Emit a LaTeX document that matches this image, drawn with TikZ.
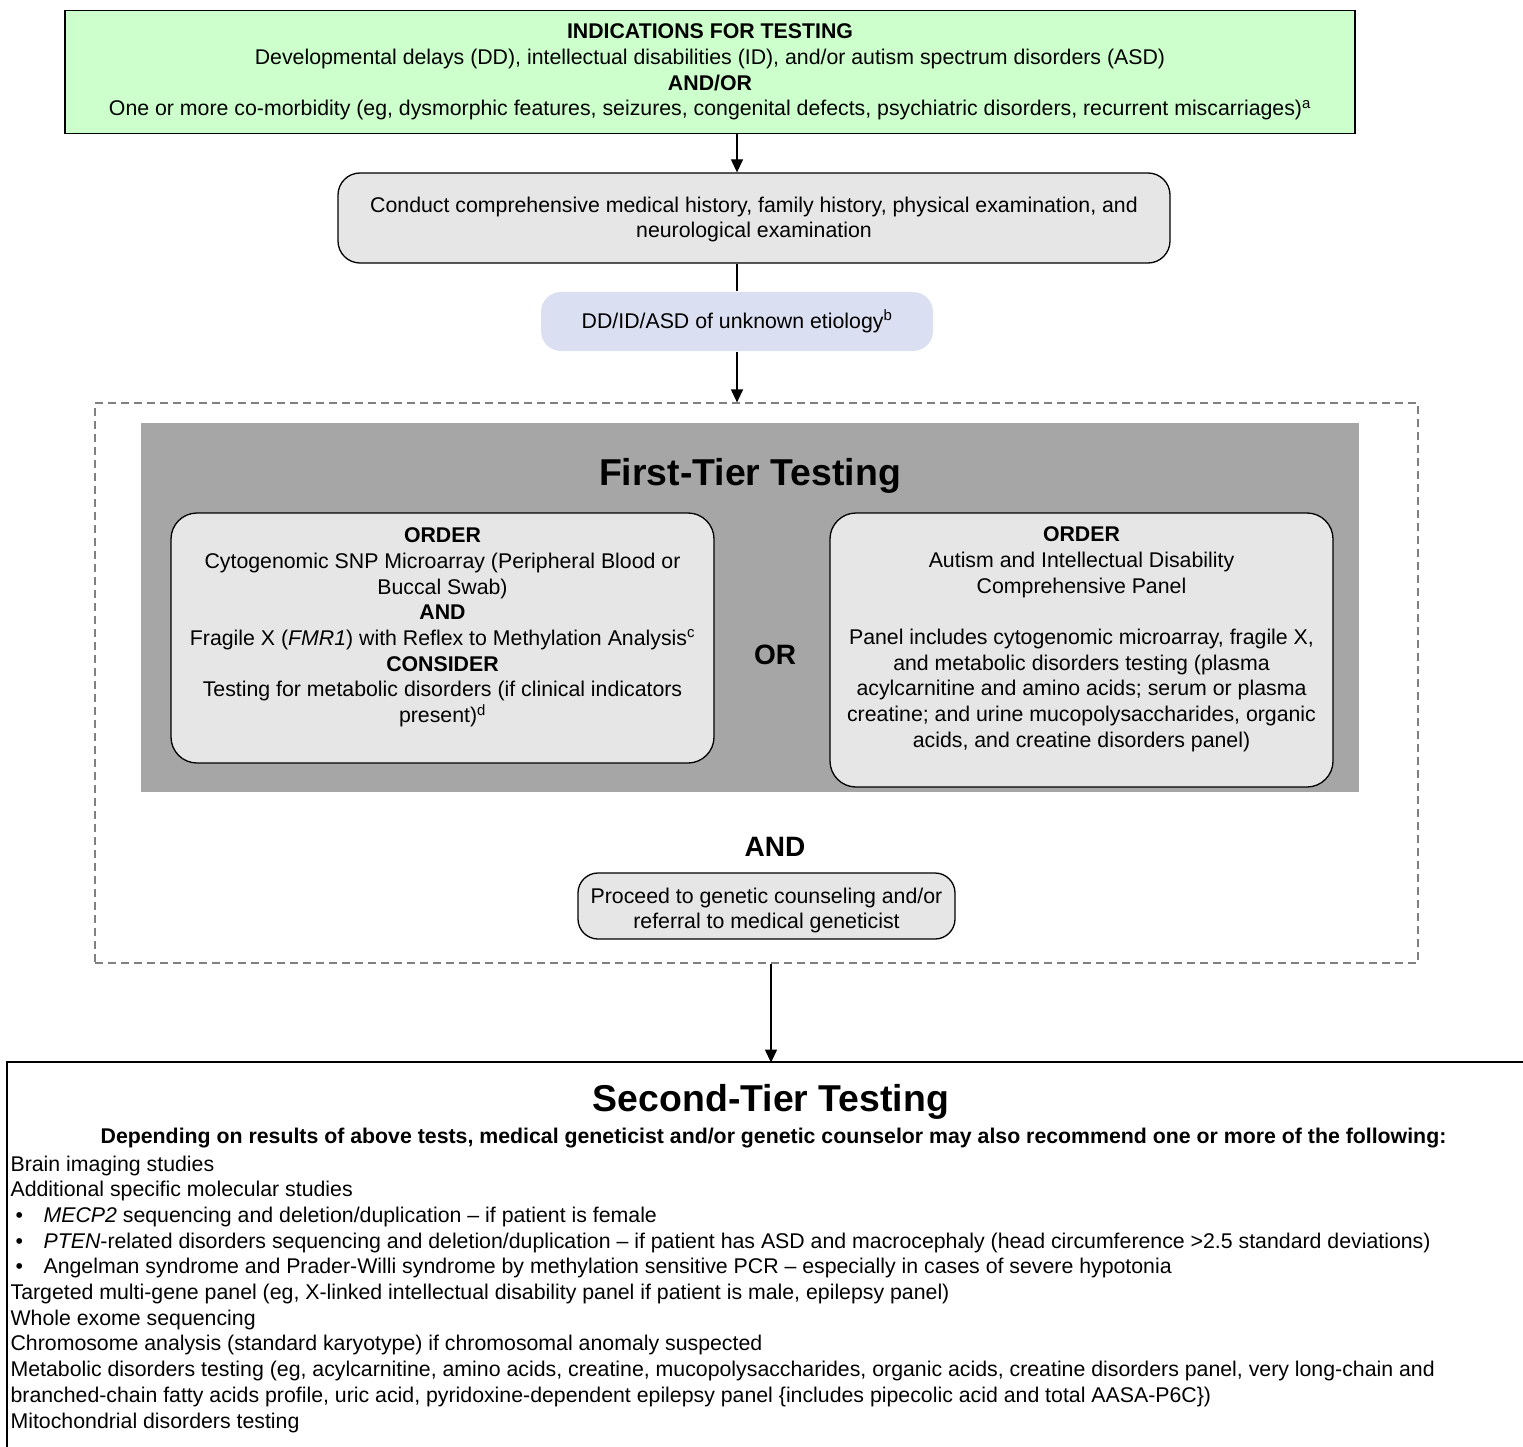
\documentclass[tikz,border=0pt]{standalone}
\usepackage{fontspec}
\setmainfont{Liberation Sans}
\usetikzlibrary{arrows.meta}
\definecolor{indgreen}{HTML}{CCFFCC}
\definecolor{boxgray}{HTML}{E6E6E6}
\definecolor{tiergray}{HTML}{A6A6A6}
\definecolor{unkblue}{HTML}{DADFF2}
\definecolor{dashgray}{HTML}{808080}
\tikzset{
  roundbox/.style={draw, line width=1.3pt, fill=boxgray, rounded corners=22pt, align=center, inner sep=0pt},
  bigtitle/.style={font=\fontsize{37.4}{44}\selectfont\bfseries},
  midword/.style={font=\fontsize{28}{33}\selectfont\bfseries},
}
\begin{document}
\begin{tikzpicture}[x=1pt, y=-1pt, font=\fontsize{21.3}{25.7}\selectfont,
  >={Triangle[width=12pt,length=13pt]}, line width=1.2pt]
\useasboundingbox (0,0) rectangle (1523,1447);
% indications:
\node[draw, line width=1.5pt, fill=indgreen, minimum width=1290pt, minimum height=123pt, inner sep=0pt, align=center] (ind) at (710,72)
  {\textbf{INDICATIONS FOR TESTING}\\
   Developmental delays (DD), intellectual disabilities (ID), and/or autism spectrum disorders (ASD)\\
   \textbf{AND/OR}\\
   One or more co-morbidity (eg, dysmorphic features, seizures, congenital defects, psychiatric disorders, recurrent miscarriages)\textsuperscript{a}};
% history and etiology:
\node[roundbox, minimum width=832pt, minimum height=90pt] (hist) at (754,218)
  {\raisebox{-2pt}[\height][\depth]{\begin{tabular}{@{}c@{}}
   Conduct comprehensive medical history, family history, physical examination, and\\
   neurological examination\end{tabular}}};
\node[fill=unkblue, rounded corners=20pt, minimum width=392pt, minimum height=59pt, inner sep=0pt] (unk) at (737,321.5)
  {DD/ID/ASD of unknown etiology\textsuperscript{b}};
% first tier:
\node[draw=dashgray, dash pattern=on 8pt off 5pt, line width=1.2pt, minimum width=1323pt, minimum height=560pt, inner sep=0pt] (tier1) at (756.5,683) {};
\node[fill=tiergray, minimum width=1218pt, minimum height=369pt, inner sep=0pt] (tiergray) at (750,607.5) {};
\node[bigtitle] (t1title) at (750,476) {First-Tier Testing};
\node[roundbox, rounded corners=26pt, minimum width=543pt, minimum height=250pt] (opta) at (442.5,638)
  {\textbf{ORDER}\\
   Cytogenomic SNP Microarray (Peripheral Blood or\\
   Buccal Swab)\\
   \textbf{AND}\\
   Fragile X (\textit{FMR1}) with Reflex to Methylation Analysis\textsuperscript{c}\\
   \textbf{CONSIDER}\\
   Testing for metabolic disorders (if clinical indicators\\
   present)\textsuperscript{d}\\
   \mbox{}};
\node[midword] (or) at (775,655) {OR};
\node[roundbox, rounded corners=26pt, minimum width=503pt, minimum height=274pt] (optb) at (1081.5,650)
  {\textbf{ORDER}\\
   Autism and Intellectual Disability\\
   Comprehensive Panel\\[25.7pt]
   Panel includes cytogenomic microarray, fragile X,\\
   and metabolic disorders testing (plasma\\
   acylcarnitine and amino acids; serum or plasma\\
   creatine; and urine mucopolysaccharides, organic\\
   acids, and creatine disorders panel)\\
   \mbox{}};
\node[midword] (and) at (775,847) {AND};
\node[roundbox, rounded corners=20pt, minimum width=377pt, minimum height=66pt] (proc) at (766.5,906)
  {\raisebox{-5pt}[\height][\depth]{\begin{tabular}{@{}c@{}}
   Proceed to genetic counseling and/or\\
   referral to medical geneticist\end{tabular}}};
% second tier:
\draw[line width=2.8pt] (1545,1470) |- (7,1062) -- (7,1470);
\node[bigtitle] (t2title) at (771,1102) {Second-Tier Testing};
\node[font=\fontsize{21.3}{25.7}\selectfont\bfseries] (t2sub) at (773.5,1138)
  {Depending on results of above tests, medical geneticist and/or genetic counselor may also recommend one or more of the following:};
\node[anchor=north west, align=left, inner sep=0pt] (t2list) at (10,1155)
  {Brain imaging studies\\
   Additional specific molecular studies\\
   \hspace*{5pt}\makebox[28pt][l]{•}\textit{MECP2} sequencing and deletion/duplication -- if patient is female\\
   \hspace*{5pt}\makebox[28pt][l]{•}\textit{PTEN}-related disorders sequencing and deletion/duplication -- if patient has ASD and macrocephaly (head circumference >2.5 standard deviations)\\
   \hspace*{5pt}\makebox[28pt][l]{•}Angelman syndrome and Prader-Willi syndrome by methylation sensitive PCR -- especially in cases of severe hypotonia\\
   Targeted multi-gene panel (eg, X-linked intellectual disability panel if patient is male, epilepsy panel)\\
   Whole exome sequencing\\
   Chromosome analysis (standard karyotype) if chromosomal anomaly suspected\\
   Metabolic disorders testing (eg, acylcarnitine, amino acids, creatine, mucopolysaccharides, organic acids, creatine disorders panel, very long-chain and\\
   branched-chain fatty acids profile, uric acid, pyridoxine-dependent epilepsy panel \{includes pipecolic acid and total AASA-P6C\})\\
   Mitochondrial disorders testing};
% connectors:
\draw[->] (ind.south -| unk) -- (hist.north -| unk);
\draw (hist.south -| unk) -- (unk.north);
\draw[->] (unk.south) -- (unk.south |- tier1.north);
\draw[->] (tier1.south -| t2title) -- ++(0,99);
\end{tikzpicture}
\end{document}
